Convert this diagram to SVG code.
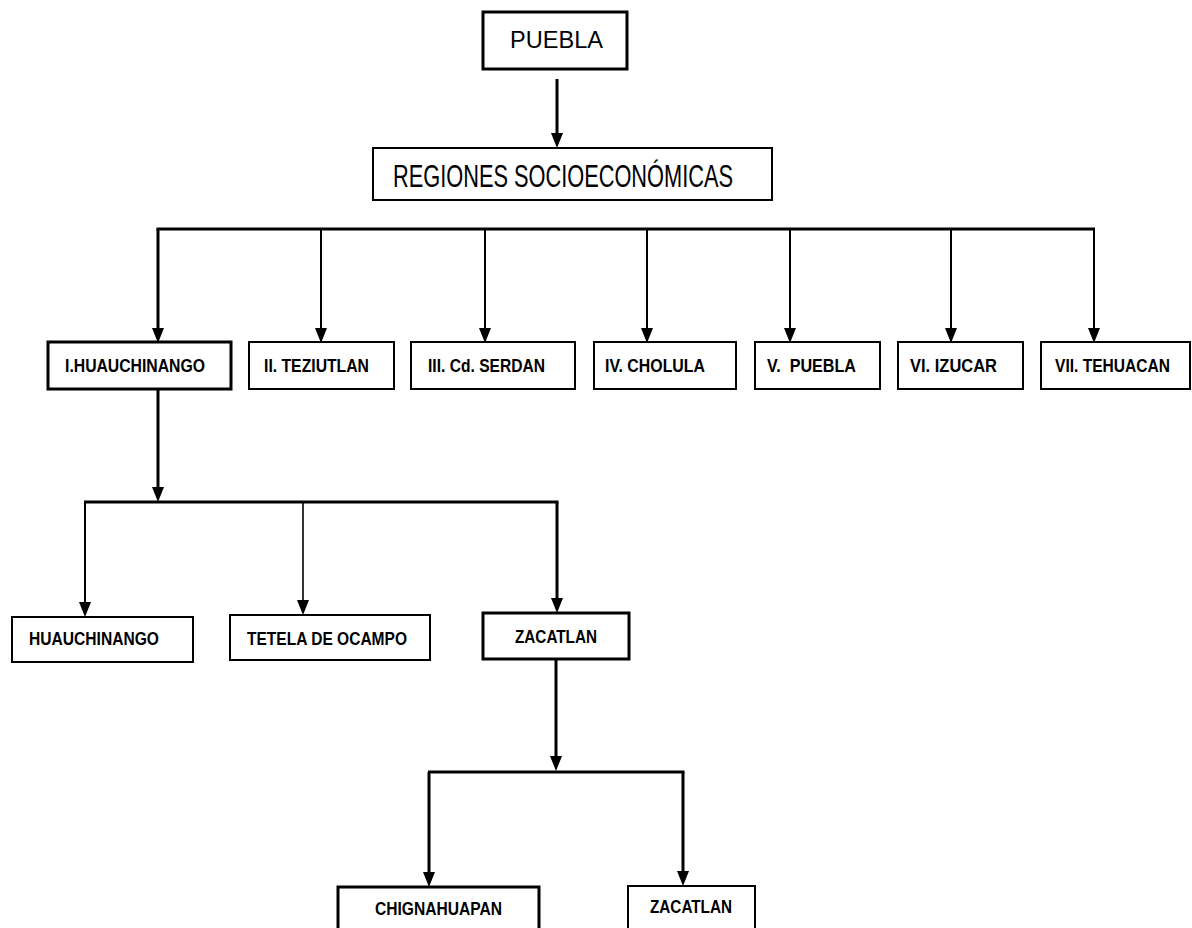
<svg xmlns="http://www.w3.org/2000/svg" width="1192" height="928" viewBox="0 0 1192 928">
<defs>
<style>
.box{fill:#fff;stroke:#000;stroke-width:2}
.bx3{stroke-width:3}
.t{font-family:"Liberation Sans",Arial,sans-serif;fill:#000}
.s{font-size:18px;font-weight:bold}
.ln{stroke:#000;stroke-width:2;fill:none}
.l3{stroke-width:3}
.l15{stroke-width:1.6}
</style>
<marker id="ah" viewBox="0 0 15 12" refX="0" refY="6" markerWidth="15" markerHeight="12" markerUnits="userSpaceOnUse" orient="auto">
<path d="M0,0 L15,6 L0,12 Z" fill="#000"/>
</marker>
</defs>
<rect width="1192" height="928" fill="#fff"/>
<g id="connectors">
<line class="ln l3" x1="557" y1="79" x2="557" y2="133" marker-end="url(#ah)"/>
<line class="ln l3" x1="156.5" y1="229" x2="1095" y2="229"/>
<line class="ln l3" x1="158" y1="229" x2="158" y2="328" marker-end="url(#ah)"/>
<line class="ln" x1="321" y1="229" x2="321" y2="328" marker-end="url(#ah)"/>
<line class="ln" x1="485" y1="229" x2="485" y2="328" marker-end="url(#ah)"/>
<line class="ln" x1="647" y1="229" x2="647" y2="328" marker-end="url(#ah)"/>
<line class="ln" x1="790" y1="229" x2="790" y2="328" marker-end="url(#ah)"/>
<line class="ln" x1="951" y1="229" x2="951" y2="328" marker-end="url(#ah)"/>
<line class="ln" x1="1094" y1="229" x2="1094" y2="328" marker-end="url(#ah)"/>
<line class="ln l3" x1="158" y1="389" x2="158" y2="487" marker-end="url(#ah)"/>
<line class="ln l3" x1="84" y1="502" x2="558.5" y2="502"/>
<line class="ln" x1="85" y1="502" x2="85" y2="602" marker-end="url(#ah)"/>
<line class="ln l15" x1="303" y1="502" x2="303" y2="600" marker-end="url(#ah)"/>
<line class="ln l3" x1="557" y1="502" x2="557" y2="598" marker-end="url(#ah)"/>
<line class="ln l3" x1="556" y1="659" x2="556" y2="756" marker-end="url(#ah)"/>
<line class="ln l3" x1="428" y1="772" x2="684.5" y2="772"/>
<line class="ln l3" x1="429" y1="772" x2="429" y2="872" marker-end="url(#ah)"/>
<line class="ln l3" x1="683" y1="772" x2="683" y2="871" marker-end="url(#ah)"/>
</g>
<g id="n-puebla">
<rect class="box bx3" x="483" y="12" width="144" height="57"/>
<text class="t" x="510" y="48" font-size="23" textLength="93" lengthAdjust="spacingAndGlyphs">PUEBLA</text>
</g>
<g id="n-regiones">
<rect class="box" x="373" y="148" width="399" height="52"/>
<text class="t" x="393" y="187" font-size="32" textLength="340" lengthAdjust="spacingAndGlyphs">REGIONES SOCIOECONÓMICAS</text>
</g>
<g id="n-r1">
<rect class="box bx3" x="48" y="342" width="183" height="47"/>
<text class="t s" x="65" y="372" textLength="140" lengthAdjust="spacingAndGlyphs">I.HUAUCHINANGO</text>
</g>
<g id="n-r2">
<rect class="box" x="249" y="342" width="145" height="47"/>
<text class="t s" x="264" y="372" textLength="105" lengthAdjust="spacingAndGlyphs">II. TEZIUTLAN</text>
</g>
<g id="n-r3">
<rect class="box" x="411" y="342" width="164" height="47"/>
<text class="t s" x="428" y="372" textLength="117" lengthAdjust="spacingAndGlyphs">III. Cd. SERDAN</text>
</g>
<g id="n-r4">
<rect class="box" x="594" y="342" width="142" height="47"/>
<text class="t s" x="605" y="372" textLength="100" lengthAdjust="spacingAndGlyphs">IV. CHOLULA</text>
</g>
<g id="n-r5">
<rect class="box" x="755" y="342" width="125" height="47"/>
<text class="t s" x="767" y="372" textLength="89" lengthAdjust="spacingAndGlyphs" xml:space="preserve">V.  PUEBLA</text>
</g>
<g id="n-r6">
<rect class="box" x="898" y="342" width="125" height="47"/>
<text class="t s" x="910" y="372" textLength="87" lengthAdjust="spacingAndGlyphs">VI. IZUCAR</text>
</g>
<g id="n-r7">
<rect class="box" x="1041" y="342" width="149" height="47"/>
<text class="t s" x="1055" y="372" textLength="115" lengthAdjust="spacingAndGlyphs">VII. TEHUACAN</text>
</g>
<g id="n-huauchinango">
<rect class="box" x="12" y="617" width="181" height="45"/>
<text class="t s" x="29" y="645" textLength="130" lengthAdjust="spacingAndGlyphs">HUAUCHINANGO</text>
</g>
<g id="n-tetela">
<rect class="box" x="230" y="615" width="200" height="45"/>
<text class="t s" x="247" y="645" textLength="160" lengthAdjust="spacingAndGlyphs">TETELA DE OCAMPO</text>
</g>
<g id="n-zacatlan1">
<rect class="box bx3" x="483" y="613" width="146" height="46"/>
<text class="t s" x="515" y="643" textLength="82" lengthAdjust="spacingAndGlyphs">ZACATLAN</text>
</g>
<g id="n-chignahuapan">
<rect class="box bx3" x="338" y="887" width="201" height="60"/>
<text class="t s" x="375" y="915" textLength="127" lengthAdjust="spacingAndGlyphs">CHIGNAHUAPAN</text>
</g>
<g id="n-zacatlan2">
<rect class="box" x="628" y="886" width="127" height="60"/>
<text class="t s" x="650" y="913" textLength="82" lengthAdjust="spacingAndGlyphs">ZACATLAN</text>
</g>
</svg>
